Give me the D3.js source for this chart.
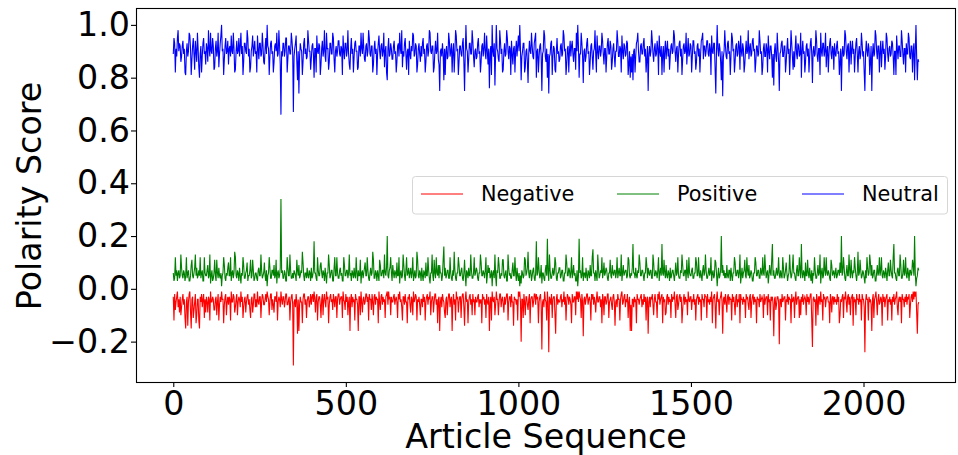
<!DOCTYPE html>
<html>
<head>
<meta charset="utf-8">
<script src="https://cdn.jsdelivr.net/npm/d3@7"></script>
<style>
  body { margin: 0; background: #fff; }
  svg { display: block; font-family: "DejaVu Sans", sans-serif; }
</style>
</head>
<body>
<svg class="chart" width="958" height="455"></svg>
<script>
/* Polarity scores, every 2nd article, in hundredths */
const articleIndex = d3.range(0, 2161, 2)

const negative = [
  -3,-12,-2,-8,-5,-3,-1,-7,-4,-9,-3,-10,-7,-4,-2,-6,-4,-11,-15,-5,-3,-14,-5,-2,-1,-9,-15,-4,-3,-11,-8,-5,-2,-13,-10,-4,-4,-12,-15,-3,
  -5,-2,-7,-4,-2,-11,-4,-9,-3,-5,-9,-3,-4,-12,-1,-5,-5,-3,-4,-8,-8,-4,-3,-10,-5,-2,-12,-6,-3,-5,-1,-4,-4,-13,-6,-3,-2,-10,-5,-3,
  -6,-3,-4,-12,-1,-5,-5,-2,-3,-9,-7,-4,-2,-10,-5,-3,-4,-7,-1,-5,-3,-11,-7,-4,-3,-9,-5,-3,-2,-6,-4,-8,-11,-4,-3,-9,-6,-2,-2,-7,
  -4,-7,-1,-5,-6,-3,-3,-11,-5,-2,-3,-6,-6,-4,-2,-5,-1,-3,-4,-10,-5,-2,-2,-8,-4,-6,-9,-3,-3,-5,-1,-12,-5,-3,-4,-7,-1,-4,-6,-3,
  -3,-7,-5,-2,-2,-6,-6,-4,-3,-12,-5,-3,-2,-6,-29,-5,-4,-7,-2,-5,-17,-4,-16,-6,-3,-5,-5,-13,-4,-2,-2,-6,-4,-11,-5,-3,-3,-7,-5,-2,
  -6,-3,-2,-5,-1,-4,-9,-3,-2,-12,-5,-3,-3,-6,-11,-4,-2,-10,-4,-2,-5,-7,-1,-4,-3,-13,-6,-3,-2,-5,-4,-8,-2,-4,-7,-3,-3,-11,-4,-2,
  -2,-6,-4,-3,-3,-11,-1,-4,-5,-8,-2,-5,-3,-10,-5,-3,-16,-4,-2,-7,-3,-5,-4,-12,-2,-4,-4,-6,-16,-3,-3,-10,-1,-5,-9,-4,-3,-6,-5,-2,
  -2,-5,-3,-12,-2,-4,-4,-8,-2,-5,-10,-3,-2,-6,-3,-4,-4,-13,-1,-5,-8,-3,-2,-6,-3,-5,-4,-11,-3,-2,-1,-6,-1,-4,-3,-10,-3,-5,-5,-3,
  -2,-6,-4,-3,-5,-11,-2,-4,-1,-5,-4,-7,-12,-3,-3,-6,-2,-5,-5,-13,-3,-4,-2,-6,-9,-3,-4,-10,-1,-5,-4,-2,-3,-12,-4,-5,-3,-6,-10,-4,
  -4,-7,-2,-5,-3,-12,-5,-3,-2,-6,-3,-4,-1,-10,-5,-3,-3,-9,-5,-2,-2,-6,-4,-13,-4,-3,-16,-5,-3,-7,-2,-4,-5,-9,-11,-4,-3,-10,-5,-2,
  -2,-7,-4,-3,-16,-5,-2,-6,-4,-12,-1,-4,-3,-9,-5,-3,-3,-11,-4,-2,-2,-7,-14,-4,-1,-5,-4,-13,-5,-3,-2,-6,-4,-10,-2,-5,-4,-10,-3,-5,
  -5,-3,-2,-7,-4,-5,-4,-13,-2,-4,-3,-6,-4,-11,-2,-5,-6,-3,-16,-5,-3,-12,-1,-4,-5,-3,-10,-6,-1,-4,-4,-10,-5,-2,-2,-7,-4,-3,-6,-9,
  -3,-6,-4,-2,-2,-12,-5,-3,-3,-7,-2,-5,-5,-14,-3,-4,-4,-6,-4,-12,-1,-3,-1,-5,-20,-4,-4,-11,-2,-5,-10,-3,-3,-6,-8,-4,-2,-13,-4,-3,
  -3,-7,-5,-2,-2,-6,-2,-4,-3,-13,-5,-3,-2,-6,-23,-5,-4,-7,-1,-4,-5,-12,-1,-5,-24,-3,-4,-6,-2,-11,-4,-3,-3,-10,-17,-4,-2,-6,-4,-5,
  -5,-3,-2,-7,-4,-5,-1,-6,-3,-12,-5,-2,-3,-6,-3,-4,-6,-13,-2,-5,-5,-3,-3,-10,-1,-4,-1,-5,-1,-3,-4,-11,-2,-5,-18,-4,-3,-6,-4,-2,
  -2,-6,-4,-3,-5,-12,-2,-4,-2,-6,-3,-5,-9,-4,-1,-5,-5,-3,-3,-7,-4,-13,-2,-4,-10,-3,-3,-6,-5,-2,-2,-11,-5,-4,-3,-6,-8,-3,-2,-5,
  -14,-5,-4,-7,-2,-4,-4,-12,-4,-2,-1,-6,-5,-3,-2,-7,-4,-5,-2,-11,-5,-3,-16,-6,-16,-4,-4,-7,-3,-5,-4,-13,-2,-4,-4,-6,-4,-3,-2,-7,
  -4,-6,-2,-5,-3,-12,-4,-3,-17,-5,-3,-7,-3,-4,-2,-6,-10,-4,-2,-5,-5,-11,-2,-4,-1,-6,-4,-3,-2,-13,-3,-5,-4,-10,-9,-3,-2,-6,-3,-5,
  -4,-11,-2,-5,-3,-4,-1,-6,-11,-3,-2,-8,-6,-3,-2,-5,-3,-13,-8,-4,-2,-6,-3,-5,-4,-10,-1,-4,-5,-3,-3,-8,-4,-5,-2,-6,-4,-12,-4,-3,
  -2,-6,-3,-5,-4,-12,-2,-4,-4,-7,-2,-3,-3,-11,-2,-5,-4,-6,-3,-5,-1,-13,-4,-3,-2,-6,-15,-4,-1,-5,-4,-10,-4,-3,-1,-5,-17,-4,-3,-6,
  -2,-5,-9,-3,-2,-6,-3,-4,-4,-12,-2,-5,-3,-6,-10,-3,-2,-7,-4,-5,-2,-13,-2,-4,-4,-6,-3,-5,-4,-11,-2,-4,-3,-6,-8,-3,-2,-11,-5,-3,
  -2,-6,-3,-5,-4,-13,-3,-4,-4,-7,-2,-5,-4,-3,-4,-11,-2,-6,-4,-3,-3,-10,-2,-5,-4,-12,-3,-4,-3,-6,-18,-4,-3,-8,-6,-3,-3,-5,-21,-4,
  -4,-7,-2,-5,-4,-3,-3,-12,-4,-5,-2,-6,-3,-4,-4,-13,-2,-5,-4,-3,-11,-4,-1,-6,-4,-3,-3,-11,-4,-10,-3,-5,-2,-6,-4,-3,-4,-10,-2,-5,
  -3,-6,-4,-2,-2,-12,-22,-4,-3,-5,-4,-14,-2,-4,-10,-3,-3,-6,-1,-5,-4,-12,-2,-4,-3,-7,-4,-3,-3,-5,-5,-13,-2,-4,-9,-3,-3,-6,-3,-5,
  -4,-6,-2,-5,-3,-13,-10,-4,-5,-3,-2,-11,-3,-4,-1,-5,-9,-3,-2,-6,-3,-10,-4,-3,-2,-14,-3,-5,-4,-10,-2,-4,-4,-6,-2,-5,-4,-12,-2,-4,
  -4,-7,-24,-5,-2,-4,-4,-12,-3,-5,-4,-6,-16,-4,-2,-11,-4,-3,-1,-5,-10,-4,-2,-6,-5,-3,-4,-14,-2,-5,-3,-7,-4,-3,-2,-12,-4,-5,-3,-6,
  -4,-12,-3,-5,-2,-6,-4,-3,-1,-7,-10,-4,-3,-5,-3,-13,-2,-4,-4,-7,-3,-5,-2,-6,-3,-4,-2,-11,-6,-3,-2,-5,-1,-4,-1,-3,-1,-9,-17,-6,
  -5
].map(v => v / 100)

const positive = [
  6,3,4,12,5,7,3,6,7,4,5,13,8,5,4,7,6,3,5,12,4,6,7,3,3,5,9,11,5,4,6,8,13,5,8,4,5,7,5,12,
  4,6,7,3,3,12,6,5,5,7,9,4,5,13,2,5,7,3,4,6,11,5,3,11,6,4,8,5,4,6,1,5,6,12,9,4,3,6,5,8,
  10,5,5,12,3,6,7,4,6,14,12,5,4,7,6,3,8,5,2,6,5,12,9,4,4,6,7,10,3,5,5,7,11,4,5,11,7,3,4,6,
  6,4,3,7,8,5,5,13,7,4,5,6,10,5,3,7,1,5,6,12,8,4,4,7,7,5,9,4,5,11,2,6,7,4,5,8,34,6,7,4,
  4,7,6,3,3,12,8,5,5,13,7,4,4,6,4,7,6,5,3,11,7,5,9,4,5,7,6,14,10,5,3,6,6,4,8,5,4,7,6,3,
  8,4,5,7,18,6,6,4,3,12,7,5,5,9,10,6,4,7,6,3,8,5,2,6,6,13,9,4,5,7,7,3,3,8,12,5,5,12,6,4,
  4,7,8,5,6,3,3,12,9,5,5,7,7,4,6,13,5,6,3,7,6,4,8,5,4,12,6,3,7,5,5,11,2,6,7,4,6,8,10,5,
  5,12,7,4,3,6,8,5,6,14,11,4,4,7,6,3,7,5,3,11,9,5,5,7,7,4,13,6,5,8,20,5,4,7,8,12,6,3,9,6,
  4,7,6,4,10,5,5,12,2,6,7,4,5,13,9,5,3,7,12,5,6,8,4,6,8,4,6,12,3,5,7,4,5,14,11,5,4,7,6,3,
  8,5,3,7,6,4,10,5,5,12,7,4,2,6,6,13,5,3,11,6,4,12,6,5,9,4,9,6,6,3,5,11,16,5,8,4,5,7,7,4,
  4,12,6,4,3,7,5,14,7,4,3,6,6,12,9,5,5,7,8,4,3,6,11,5,1,7,6,4,8,5,5,13,7,4,4,6,12,5,6,8,
  7,4,3,6,6,13,10,5,5,7,6,4,7,12,2,5,9,6,8,4,5,7,1,6,7,4,13,5,1,7,6,12,9,4,4,6,5,11,11,5,
  4,6,7,3,3,13,8,5,6,4,4,7,10,5,5,12,6,3,8,5,3,6,1,5,2,7,6,4,5,12,11,5,6,8,14,6,4,7,7,3,
  5,7,8,4,3,6,18,5,6,12,7,4,5,9,2,6,6,4,3,7,9,5,19,6,3,13,7,4,4,6,8,5,6,12,10,4,3,6,6,8,
  8,4,5,7,7,3,3,6,6,13,10,5,5,8,7,4,6,12,4,6,9,5,6,3,3,7,1,5,19,6,7,4,5,12,3,6,6,4,8,5,
  3,7,6,4,9,5,5,12,15,6,6,3,7,5,3,13,8,4,5,7,6,12,4,6,10,5,6,8,7,4,3,6,6,11,5,4,9,6,5,7,
  7,4,6,12,4,6,8,5,5,13,3,6,9,5,6,7,7,4,5,12,11,5,4,6,5,8,17,6,6,4,8,5,4,7,6,13,10,5,5,7,
  7,5,3,6,6,12,9,4,8,6,5,7,7,4,4,13,10,5,5,7,6,4,7,12,3,6,8,5,17,6,5,11,6,4,9,5,4,7,6,3,
  8,4,5,7,7,5,3,6,10,5,6,12,5,4,4,7,6,13,9,5,5,7,7,3,11,6,4,12,6,5,5,7,8,4,4,6,6,12,10,5,
  5,12,6,4,7,5,3,7,9,5,6,13,7,4,4,6,8,5,6,12,3,6,7,4,5,11,10,6,1,5,8,4,5,7,20,6,9,5,7,4,
  6,4,9,5,4,7,7,3,8,5,3,6,6,12,10,5,5,7,7,4,6,13,2,5,8,4,6,7,11,5,4,12,7,5,9,4,5,7,6,3,
  3,6,6,12,10,5,5,7,7,4,4,8,6,5,12,6,5,13,8,4,6,7,2,5,9,6,5,11,17,5,7,4,4,6,8,5,6,12,5,4,
  7,5,4,12,8,4,5,7,10,6,3,5,6,13,7,4,5,8,13,6,6,4,3,7,9,5,5,12,7,4,17,6,4,7,6,3,10,5,5,11,
  6,4,8,5,3,7,2,6,5,12,7,4,4,6,9,5,6,13,2,6,8,4,5,12,7,5,12,6,5,7,6,4,3,11,9,5,6,7,4,6,
  8,4,5,7,7,5,10,6,20,5,6,12,8,4,3,6,9,5,5,13,7,4,11,6,4,7,6,12,8,5,3,6,14,5,6,11,7,4,5,7,
  6,4,2,7,4,12,8,5,6,13,10,5,9,4,5,7,7,3,3,6,9,5,6,12,5,7,12,5,4,7,6,4,8,6,3,7,10,5,5,11,
  7,5,4,12,17,6,6,4,3,7,8,5,5,13,9,4,4,6,11,5,6,12,5,4,8,6,3,7,7,5,6,11,9,5,20,6,1,4,5,8,
  7
].map(v => v / 100)

const neutral = [
  89,95,93,82,91,88,95,98,90,93,92,86,88,92,94,89,91,82,81,90,93,88,90,97,96,91,81,87,92,95,89,83,94,90,86,97,91,84,80,89,
  92,82,88,93,95,89,90,85,93,91,86,98,91,88,97,90,89,95,92,83,84,91,94,88,90,97,84,89,93,96,100,90,91,81,87,92,95,89,90,94,
  85,91,92,88,96,90,89,97,91,82,83,90,94,89,90,95,88,92,97,89,92,81,86,93,93,90,89,98,95,88,91,82,84,90,92,96,88,91,94,89,
  90,82,96,91,87,93,93,88,89,97,92,86,85,91,95,89,100,92,91,81,88,93,94,89,90,82,86,92,93,90,97,88,89,98,92,85,66,90,88,93,
  93,88,90,95,95,82,87,92,92,89,89,97,94,90,67,88,91,93,96,86,79,90,74,88,93,91,90,81,86,93,95,89,91,87,88,98,94,90,90,83,
  87,92,93,89,80,91,91,82,96,90,89,93,92,81,85,91,94,88,90,98,88,86,97,91,91,83,86,93,93,89,89,97,95,87,82,90,92,88,90,94,
  94,89,88,92,91,81,96,90,87,93,93,88,90,98,89,85,83,91,95,89,91,82,88,93,94,90,90,83,84,92,92,88,97,91,89,97,91,87,86,92,
  93,88,90,98,95,89,88,92,92,82,85,91,94,89,91,81,89,93,96,90,87,92,93,88,90,97,84,90,92,82,79,91,95,88,89,93,91,87,87,92,
  94,89,90,82,86,92,93,88,97,91,89,98,84,90,88,93,95,89,83,90,91,81,94,89,87,92,90,97,96,88,89,93,92,82,85,91,93,89,86,92,
  88,93,95,89,91,82,86,92,93,88,90,98,97,90,89,92,92,82,84,90,94,89,90,97,87,85,75,90,91,88,93,89,79,91,81,90,92,87,88,97,
  94,88,90,93,82,90,93,82,89,98,96,90,91,81,86,92,92,89,88,93,95,86,75,89,100,91,90,82,87,93,93,89,89,98,94,88,84,90,91,87,
  88,93,95,89,90,82,86,92,93,88,91,97,89,87,96,90,85,91,76,89,92,81,100,90,88,93,77,89,100,91,90,87,86,98,94,89,91,82,83,90,
  93,88,89,98,95,90,87,92,91,81,94,89,85,91,92,82,90,94,88,92,96,90,100,91,79,88,90,93,93,82,84,90,91,86,78,89,94,90,89,97,
  92,88,87,93,95,97,80,90,91,82,88,92,93,88,75,89,90,98,96,88,86,91,80,89,74,88,89,93,94,81,88,92,91,83,82,90,95,89,90,86,
  87,92,93,88,89,98,96,90,91,81,85,91,92,82,90,94,88,92,94,89,86,91,91,83,97,90,100,92,80,89,89,97,93,88,78,90,91,86,88,93,
  95,89,90,81,86,92,93,88,83,90,91,98,89,82,96,90,87,92,92,88,90,97,94,89,85,91,91,82,88,93,95,89,89,94,92,83,86,91,93,88,
  84,90,90,98,94,88,88,92,91,82,96,90,87,93,92,88,89,94,93,81,85,90,80,88,82,89,79,90,91,82,88,93,94,97,90,86,86,92,93,89,
  89,93,95,88,91,82,87,92,75,89,92,88,90,98,94,89,86,91,93,88,89,94,91,81,96,90,88,92,81,89,92,82,90,94,87,91,94,88,91,83,
  88,92,93,89,90,98,96,90,86,91,92,82,89,93,94,88,91,81,87,92,93,89,90,97,85,90,95,88,89,93,92,82,88,94,94,89,90,83,86,92,
  93,88,91,82,89,94,95,97,87,92,92,88,90,94,94,89,88,93,91,81,96,90,89,93,93,83,74,90,100,91,88,93,91,86,79,90,73,88,90,98,
  92,88,87,93,94,89,90,81,88,97,95,90,91,82,86,92,93,88,89,94,92,83,96,90,88,93,91,82,85,90,94,89,90,98,87,91,93,88,89,94,
  95,90,91,82,86,92,92,88,89,98,94,89,90,81,84,91,93,88,88,93,91,82,96,90,87,92,92,88,80,89,77,90,93,88,86,97,91,86,75,89,
  90,93,94,88,88,92,92,82,86,91,95,89,91,81,89,98,93,88,83,90,84,91,96,89,87,93,92,88,89,97,80,90,94,89,90,82,86,92,93,88,
  91,82,88,93,95,89,78,90,92,88,89,98,94,88,86,91,91,81,97,90,88,93,93,88,90,97,84,90,92,82,89,93,95,89,87,92,91,83,93,89,
  88,92,94,89,90,81,86,91,75,89,92,88,89,98,96,90,87,92,93,82,90,94,85,91,94,89,91,82,88,93,95,89,82,90,92,87,89,97,93,88,
  90,82,75,89,94,90,88,93,91,81,86,92,75,89,93,88,89,98,96,90,87,92,92,82,90,94,84,90,94,89,91,83,88,97,95,89,86,91,92,88,
  89,94,93,88,81,90,90,81,96,91,87,92,92,88,88,98,94,89,85,91,91,82,93,89,89,97,95,88,87,92,92,82,90,93,79,90,100,88,79,87,
  86
].map(v => v / 100)

const seriesNames = ["Negative", "Positive", "Neutral"]
const seriesColors = ["#ff0000", "#008000", "#0000ff"]
const xTicks = [0, 500, 1000, 1500, 2000]
const yTicks = [-0.2, 0, 0.2, 0.4, 0.6, 0.8, 1.0]

const plotLeft = 136, plotRight = 956, plotTop = 8, plotBottom = 382
const fontSize = 33.3

const x = d3.scaleLinear().domain([-108, 2268]).range([plotLeft, plotRight])
const y = d3.scaleLinear().domain([-0.353, 1.064]).range([plotBottom, plotTop])

const svg = d3.select("svg.chart")

const line = d3.line()
    .x((d, i) => x(articleIndex[i]))
    .y(d => y(d))

svg.selectAll("path.series")
    .data([negative, positive, neutral])
    .enter()
    .append("path")
    .attr("class", "series")
    .attr("d", line)
    .attr("fill", "none")
    .attr("stroke", (d, i) => seriesColors[i])
    .attr("stroke-width", 1.1)

// axes
const xAxis = svg.append("g")
    .attr("transform", "translate(0," + plotBottom + ")")
    .call(d3.axisBottom(x).tickValues(xTicks).tickSize(5).tickPadding(4).tickFormat(d3.format("d")))
const yAxis = svg.append("g")
    .attr("transform", "translate(" + plotLeft + ",0)")
    .call(d3.axisLeft(y).tickValues(yTicks).tickSize(5).tickPadding(1).tickFormat(d3.format(".1f")))

;[xAxis, yAxis].forEach(g => {
    g.select(".domain").remove()
    g.selectAll("text").attr("font-size", fontSize).attr("font-family", "DejaVu Sans").attr("fill", "#000")
    g.selectAll("line").attr("stroke", "#000").attr("stroke-width", 1.1)
})

// frame
svg.append("rect")
    .attr("x", plotLeft + 0.5)
    .attr("y", plotTop + 0.5)
    .attr("width", plotRight - plotLeft - 1)
    .attr("height", plotBottom - plotTop)
    .attr("fill", "none")
    .attr("stroke", "#000")
    .attr("stroke-width", 1.1)

svg.append("text")
    .attr("x", (plotLeft + plotRight) / 2)
    .attr("y", 448)
    .attr("text-anchor", "middle")
    .attr("font-size", fontSize)
    .text("Article Sequence")

svg.append("text")
    .attr("transform", "translate(41,196) rotate(-90)")
    .attr("text-anchor", "middle")
    .attr("font-size", fontSize)
    .text("Polarity Score")

// legend
const legend = svg.append("g")

legend.append("rect")
    .attr("x", 412.5)
    .attr("y", 176.5)
    .attr("width", 535)
    .attr("height", 37.5)
    .attr("rx", 3)
    .attr("fill", "#fff")
    .attr("fill-opacity", 0.8)
    .attr("stroke", "#d6d6d6")

const legendX = [421, 617, 802]

const item = legend.selectAll("g.item")
    .data(seriesNames)
    .enter()
    .append("g")
    .attr("transform", (d, i) => "translate(" + legendX[i] + ",194)")

item.append("line")
    .attr("x1", 0)
    .attr("x2", 42)
    .attr("stroke", (d, i) => seriesColors[i])
    .attr("stroke-width", 1)

item.append("text")
    .attr("x", 60)
    .attr("y", 7)
    .attr("font-size", 20.8)
    .text(d => d)
</script>
</body>
</html>
